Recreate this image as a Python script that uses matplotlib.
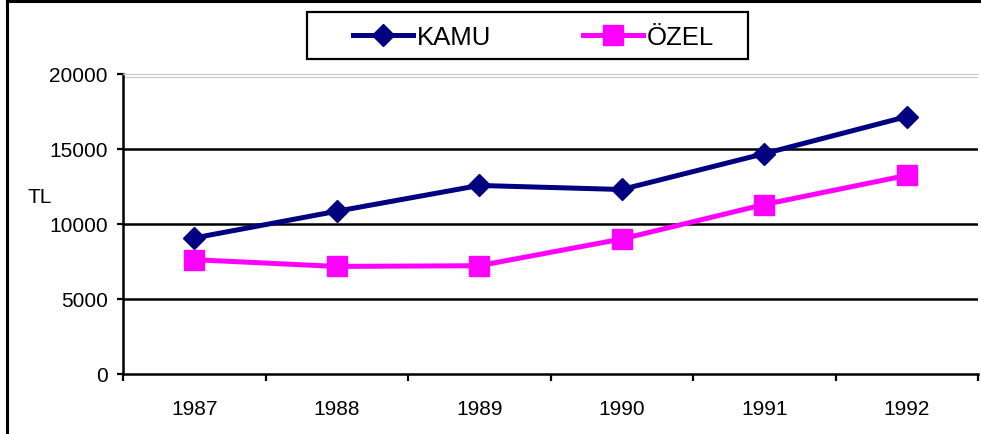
import matplotlib
matplotlib.use("Agg")
import matplotlib.pyplot as plt
from matplotlib.lines import Line2D

plt.rcParams['font.family'] = ['Liberation Sans', 'DejaVu Sans']

# data
years = ["1987", "1988", "1989", "1990", "1991", "1992"]
kamu = [9070, 10850, 12570, 12300, 14690, 17160]
ozel = [7620, 7170, 7220, 9000, 11300, 13240]
y_ticks = [0, 5000, 10000, 15000, 20000]

W, H = 981, 435
fig = plt.figure(figsize=(W / 100, H / 100), dpi=100)
ax = fig.add_axes([123 / W, 1 - 375 / H, (978 - 123) / W, (375 - 75) / H])

x = list(range(len(years)))
ax.plot(x, kamu, color="#000080", lw=3.6, marker="D", ms=11.5, mew=1,
        mec="#000080", label="KAMU", zorder=5)
ax.plot(x, ozel, color="#FF00FF", lw=3.6, marker="s", ms=14.5, mew=1,
        mec="#FF00FF", label="ÖZEL", zorder=5)

ax.set_xlim(-0.5, len(years) - 0.5)
ax.set_ylim(0, 20000)

# gridlines
for v in y_ticks[1:-1]:
    ax.axhline(v, color="black", lw=1.8, zorder=1)
ax.axhline(19780, color="#c8c8c8", lw=0.8, zorder=1)

ax.spines["right"].set_visible(False)
ax.spines["top"].set_color("#c8c8c8")
ax.spines["top"].set_linewidth(0.8)
ax.spines["left"].set_linewidth(1.8)
ax.spines["bottom"].set_linewidth(1.8)

ax.set_yticks(y_ticks)
ax.set_yticklabels([str(v) for v in y_ticks])
ax.tick_params(axis="y", direction="out", length=4.5, width=1.6, pad=6.5,
               labelsize=15)

# category boundaries as major ticks, labels at the centres
ax.set_xticks([i - 0.5 for i in range(len(years) + 1)])
ax.set_xticklabels([])
ax.set_xticks(x, minor=True)
ax.set_xticklabels(years, minor=True)
ax.tick_params(axis="x", which="major", direction="out", length=5, width=1.6)
ax.tick_params(axis="x", which="minor", length=0, pad=18, labelsize=15)

fig.text(27 / W, 1 - 198 / H, "TL", fontsize=15, va="center", ha="left")

# legend with its own frame
leg = fig.legend(loc="center left", bbox_to_anchor=(353 / W, 1 - 38 / H),
                 ncol=2, frameon=False, fontsize=18.5, handlelength=2.35,
                 handletextpad=0.15, columnspacing=3.55, borderpad=0,
                 borderaxespad=0, markerscale=1.0)
fig.add_artist(plt.Rectangle((307 / W, 1 - 60 / H), (748 - 307) / W, 47 / H,
                             transform=fig.transFigure, fill=False,
                             edgecolor="black", lw=1.6))

# outer border (left and top only are visible)
fig.add_artist(Line2D([7 / W, 7 / W], [0, 1 - 2 / H], transform=fig.transFigure,
                      color="black", lw=2.2))
fig.add_artist(Line2D([7 / W, 1], [1 - 2 / H, 1 - 2 / H], transform=fig.transFigure,
                      color="black", lw=2.2))

fig.savefig("out.png", dpi=100)
